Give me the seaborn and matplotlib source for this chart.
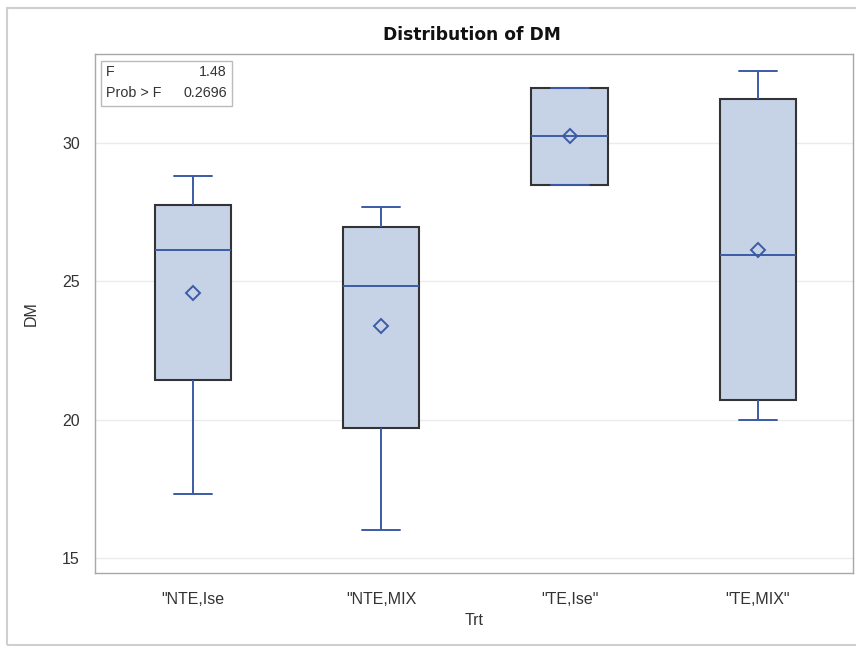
import numpy as np
import pandas as pd
import matplotlib
matplotlib.use("Agg")
import matplotlib.pyplot as plt
import seaborn as sns
from matplotlib.patches import Rectangle

# group labels as they appear on the axis
trt = ['"NTE,Ise', '"NTE,MIX', '"TE,Ise"', '"TE,MIX"']

dm_nte_ise = [17.3, 20.1, 21.45, 24.38, 26.15, 27.0, 27.75, 28.2, 28.8]
dm_nte_mix = [16.0, 17.99, 19.7, 23.0, 24.85, 26.7, 26.97, 27.6, 27.7]
dm_te_ise = [28.5, 28.5, 32.0, 32.0]
dm_te_mix = [20.0, 20.4, 20.7, 23.5, 25.95, 28.5, 31.6, 32.1, 32.6]

f_value = "1.48"
prob_f = "0.2696"

groups = [dm_nte_ise, dm_nte_mix, dm_te_ise, dm_te_mix]
df = pd.DataFrame({
    "Trt": np.repeat(trt, [len(g) for g in groups]),
    "DM": np.concatenate(groups),
})

sns.set_style("white")
plt.rcParams["font.family"] = ["Liberation Sans", "DejaVu Sans"]

fig = plt.figure(figsize=(8.56, 6.49), dpi=100)
ax = fig.add_axes([95 / 856, 76 / 649, 758 / 856, 519 / 649])

blue = "#3B5BA5"
ax.yaxis.grid(True, color="#EBEBEB", linewidth=1)
ax.set_axisbelow(True)

sns.boxplot(
    data=df, x="Trt", y="DM", order=trt, ax=ax, width=0.405,
    color="#C6D2E6", linewidth=1.3, showmeans=True, fliersize=0,
    boxprops=dict(facecolor="#C6D2E6", edgecolor="#333333", linewidth=1.5),
    medianprops=dict(color=blue, linewidth=1.4),
    whiskerprops=dict(color=blue, linewidth=1.4),
    capprops=dict(color=blue, linewidth=1.4),
    meanprops=dict(marker="D", markerfacecolor="none", markeredgecolor=blue,
                   markeredgewidth=1.4, markersize=7.5),
)

ax.set_xlim(-0.52, 3.505)
ax.set_ylim(14.45, 33.23)
ax.set_yticks([15, 20, 25, 30])
for s in ax.spines.values():
    s.set_color("#A8A8A8")
    s.set_linewidth(1)
ax.tick_params(axis="both", length=7, color="#A8A8A8", labelsize=11.5,
               labelcolor="#333333", width=1)
ax.tick_params(axis="x", pad=7)
ax.tick_params(axis="y", pad=4)
ax.set_xlabel("Trt", fontsize=11.5, color="#333333", labelpad=4)
ax.set_ylabel("DM", fontsize=11.5, color="#333333", labelpad=17)

fig.text(472 / 856, 1 - 35 / 649, "Distribution of DM", ha="center", va="center",
         fontsize=12.3, fontweight="bold", family="DejaVu Sans", color="#111111")

# statistics inset in the upper left corner
fig.patches.append(Rectangle((101 / 856, 1 - 106 / 649), 131 / 856, 45 / 649,
                             transform=fig.transFigure, facecolor="white",
                             edgecolor="#BBBBBB", linewidth=1, zorder=5))
fig.text(106 / 856, 1 - 72 / 649, "F", fontsize=10.3, color="#333333", va="center", zorder=6)
fig.text(227 / 856, 1 - 72 / 649, f_value, fontsize=10.3, color="#333333", va="center",
         ha="right", zorder=6)
fig.text(106 / 856, 1 - 93 / 649, "Prob > F", fontsize=10.3, color="#333333", va="center", zorder=6)
fig.text(227 / 856, 1 - 93 / 649, prob_f, fontsize=10.3, color="#333333", va="center",
         ha="right", zorder=6)

# light outer border of the graph
fig.patches.append(Rectangle((7 / 856, 4 / 649), 852 / 856, 637 / 649,
                             transform=fig.transFigure, facecolor="none",
                             edgecolor="#CFCFCF", linewidth=1.5, zorder=0))

fig.savefig("out.png", dpi=100)
